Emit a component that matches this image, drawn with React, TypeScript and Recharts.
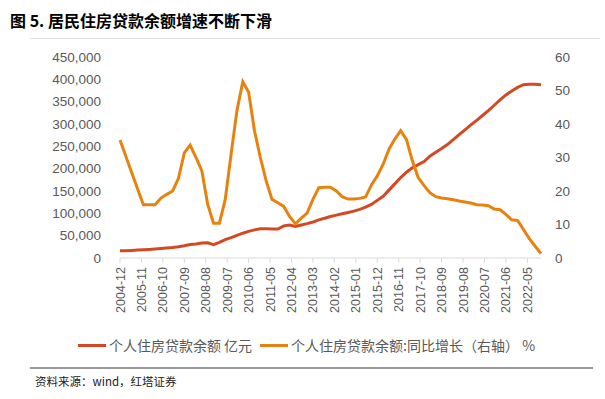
import { LineChart, Line, XAxis, YAxis } from "recharts"

// quarterly observations, 2004-12 .. 2022-12
const dates = [
  "2004-12", "2005-03", "2005-06", "2005-09", "2005-12", "2006-03", "2006-06", "2006-09", "2006-12",
  "2007-03", "2007-06", "2007-09", "2007-12", "2008-03", "2008-06", "2008-09", "2008-12",
  "2009-03", "2009-06", "2009-09", "2009-12", "2010-03", "2010-06", "2010-09", "2010-12",
  "2011-03", "2011-06", "2011-09", "2011-12", "2012-03", "2012-06", "2012-09", "2012-12",
  "2013-03", "2013-06", "2013-09", "2013-12", "2014-03", "2014-06", "2014-09", "2014-12",
  "2015-03", "2015-06", "2015-09", "2015-12", "2016-03", "2016-06", "2016-09", "2016-12",
  "2017-03", "2017-06", "2017-09", "2017-12", "2018-03", "2018-06", "2018-09", "2018-12",
  "2019-03", "2019-06", "2019-09", "2019-12", "2020-03", "2020-06", "2020-09", "2020-12",
  "2021-03", "2021-06", "2021-09", "2021-12", "2022-03", "2022-06", "2022-09", "2022-12",
]

// 个人住房贷款余额 (亿元)
const balance = [
  16000, 16500, 17000, 17700, 18400, 19300, 20200, 21300, 22500,
  23700, 25300, 27500, 30000, 31500, 33500, 34000, 29800,
  35000, 41000, 45500, 50500, 55500, 59500, 63000, 65500,
  65500, 64700, 64700, 72000, 74000, 70500, 74000, 77000,
  80500, 85500, 89000, 93000, 96000, 99000, 102000, 105000,
  109000, 114000, 120000, 129000, 138000, 152000, 166000, 180000,
  192000, 202000, 209000, 216000, 228000, 237000, 245000, 254000,
  265000, 276000, 287000, 298000, 308000, 319000, 330000, 342000,
  354000, 365000, 374000, 382000, 388000, 389000, 389000, 388000,
]

// 同比增长 (%)
const growth = [
  35.2, 30.4, 25.5, 20.7, 15.9, 15.9, 15.9, 17.9, 19.0,
  20.0, 23.8, 31.4, 33.7, 30.0, 26.0, 16.0, 10.4,
  10.4, 17.5, 31.0, 44.0, 52.6, 49.5, 38.0, 30.0,
  23.0, 17.5, 16.5, 15.4, 12.4, 10.2, 11.9, 13.4,
  17.5, 21.0, 21.1, 21.1, 20.0, 18.3, 17.6, 17.6,
  17.8, 18.2, 21.8, 24.5, 28.0, 32.5, 35.5, 38.0,
  35.3, 29.0, 24.0, 21.6, 19.5, 18.3, 17.9, 17.7,
  17.4, 17.0, 16.7, 16.4, 15.9, 15.8, 15.6, 14.6,
  14.4, 13.0, 11.4, 11.2, 8.5, 5.8, 3.5, 1.3,
]

const tickLabels = [
  "2004-12", "2005-11", "2006-10", "2007-09", "2008-08", "2009-07", "2010-06",
  "2011-05", "2012-04", "2013-03", "2014-02", "2015-01", "2015-12", "2016-11",
  "2017-10", "2018-09", "2019-08", "2020-07", "2021-06", "2022-05",
]
const leftTicks = [0, 50000, 100000, 150000, 200000, 250000, 300000, 350000, 400000, 450000]
const rightTicks = [0, 10, 20, 30, 40, 50, 60]

const RED = "#D34A22"
const ORANGE = "#E8820E"
const AXIS_TEXT = "#595959"

const toIndex = (d: string) => {
  const [y, m] = d.split("-").map(Number)
  return (y - 2004) * 12 + m - 12
}

const data = dates.map((d, i) => ({ m: toIndex(d), balance: balance[i], growth: growth[i] }))
const xTicks = tickLabels.map(toIndex)

function XTick({ x, y, payload }: any) {
  const label = tickLabels[xTicks.indexOf(payload.value)] ?? ""
  return (
    <text
      x={x}
      y={y}
      transform={`rotate(-90 ${x} ${y})`}
      textAnchor="end"
      dy="0.36em"
      fontSize={12.5}
      fill={AXIS_TEXT}
      fontFamily="'Liberation Sans', Arial, sans-serif"
    >
      {label}
    </text>
  )
}

const fmt = (v: number) => v.toLocaleString("en-US")

export default function App() {
  return (
    <div style={{ position: "absolute", left: 0, top: 0, width: 605, height: 399, background: "#fff", fontFamily: "'Noto Sans CJK SC', sans-serif" }}>
      <div style={{ position: "absolute", left: 10, top: 8, fontSize: 16, fontWeight: 700, color: "#000", whiteSpace: "nowrap" }}>
        图 5. 居民住房贷款余额增速不断下滑
      </div>
      <div style={{ position: "absolute", left: 30, top: 38, width: 570, height: 1, background: "#e3e3e3" }} />

      <div style={{ position: "absolute", left: 0, top: 0 }}>
        <LineChart width={605} height={330} data={data} margin={{ top: 57, right: 0, bottom: 10, left: 0 }}>
          <XAxis
            dataKey="m"
            type="number"
            domain={[0, 216]}
            ticks={xTicks}
            interval={0}
            height={62}
            tick={<XTick />}
            tickSize={5}
            tickMargin={4}
            stroke="#d9d9d9"
            axisLine={{ stroke: "#d9d9d9" }}
            tickLine={{ stroke: "#d9d9d9" }}
          />
          <YAxis
            yAxisId="left"
            width={120}
            domain={[0, 450000]}
            ticks={leftTicks}
            tickFormatter={fmt}
            axisLine={false}
            tickLine={false}
            tickSize={0}
            tickMargin={19}
            tick={{ fill: AXIS_TEXT, fontSize: 13.5, fontFamily: "'Liberation Sans', Arial, sans-serif" }}
          />
          <YAxis
            yAxisId="right"
            orientation="right"
            width={64}
            domain={[0, 60]}
            ticks={rightTicks}
            axisLine={false}
            tickLine={false}
            tickSize={0}
            tickMargin={14}
            tick={{ fill: AXIS_TEXT, fontSize: 13.5, fontFamily: "'Liberation Sans', Arial, sans-serif", textAnchor: "start" }}
          />
          <Line yAxisId="left" type="linear" dataKey="balance" stroke={RED} strokeWidth={3} dot={false} isAnimationActive={false} />
          <Line yAxisId="right" type="linear" dataKey="growth" stroke={ORANGE} strokeWidth={3} dot={false} isAnimationActive={false} />
        </LineChart>
      </div>

      <div style={{ position: "absolute", left: 4, top: 335, width: 605, display: "flex", justifyContent: "center", alignItems: "center", fontSize: 14, color: "#595959", whiteSpace: "nowrap" }}>
        <span style={{ display: "inline-block", width: 28, height: 3, background: RED, marginRight: 3 }} />
        <span>个人住房贷款余额 亿元</span>
        <span style={{ display: "inline-block", width: 28, height: 3, background: ORANGE, marginLeft: 8, marginRight: 3 }} />
        <span>个人住房贷款余额:同比增长（右轴） %</span>
      </div>

      <div style={{ position: "absolute", left: 30, top: 367, width: 563, height: 1.5, background: "#999" }} />
      <div style={{ position: "absolute", left: 35, top: 373, fontSize: 11.5, color: "#222", whiteSpace: "nowrap" }}>
        资料来源：wind，红塔证券
      </div>
    </div>
  )
}
